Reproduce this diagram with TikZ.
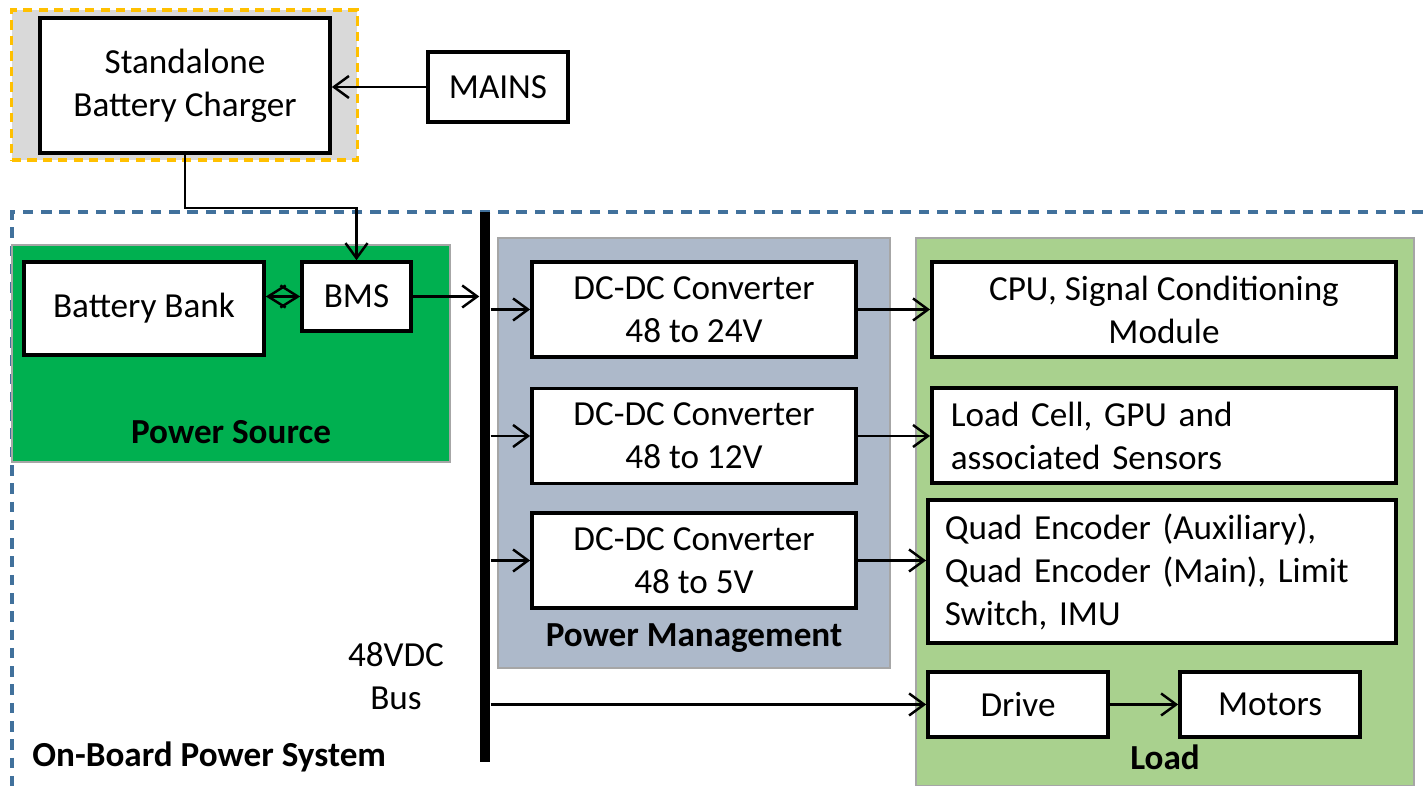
\documentclass[tikz,border=0pt]{standalone}
\usepackage{fontspec}
\setmainfont{Carlito}
\usepackage{tikz}
\usetikzlibrary{arrows.meta}
\definecolor{chargegray}{HTML}{D9D9D9}
\definecolor{chargeorange}{HTML}{FFC000}
\definecolor{srcgreen}{HTML}{00B050}
\definecolor{pmblue}{HTML}{ADB9CA}
\definecolor{loadgreen}{HTML}{A9D18E}
\definecolor{zonegray}{HTML}{A6A6A6}
\definecolor{boardblue}{HTML}{41719C}

\begin{document}
\begin{tikzpicture}[x=0.01cm,y=-0.01cm]

    \useasboundingbox (0,0) rectangle (1423,786);
    \tikzstyle{every node}=[font=\fontsize{10}{12.2}\selectfont]
    \tikzstyle{blk}=[draw,fill=white,line width=1pt,align=center,inner sep=0pt]
    \tikzstyle{zone}=[draw=zonegray,line width=0.6pt,inner sep=0pt]
    \tikzstyle{lbl}=[font=\fontsize{10}{12.2}\selectfont\bfseries]
    \tikzstyle{wire}=[line width=0.7pt,-{Straight Barb[length=1.5mm,width=2.2mm]}]

    % regions
    \node[zone,fill=chargegray,draw=chargeorange,line width=0.9pt,dash pattern=on 2.6pt off 1.8pt,minimum width=3.45cm,minimum height=1.5cm](chargezone) at (184.5,85){};
    \draw[boardblue,line width=0.9pt,dash pattern=on 3pt off 2.2pt] (1423,212) -| (12,786);
    \node[zone,fill=srcgreen,minimum width=4.38cm,minimum height=2.17cm](srczone) at (231,353.5){};
    \node[zone,fill=pmblue,minimum width=3.92cm,minimum height=4.3cm](pmzone) at (694,453){};
    \node[zone,fill=loadgreen,minimum width=4.98cm,minimum height=5.48cm](loadzone) at (1165,512){};

    % blocks
    \node[blk,minimum width=2.9cm,minimum height=1.35cm](charger) at (185,85.5){Standalone\\Battery Charger};
    \node[blk,minimum width=1.4cm,minimum height=0.7cm](mains) at (498,87){MAINS};
    \node[blk,minimum width=2.4cm,minimum height=0.93cm](battery) at (144,308.5){Battery Bank};
    \node[blk,minimum width=1.09cm,minimum height=0.69cm](bms) at (356.5,296.5){BMS};
    \node[blk,minimum width=3.24cm,minimum height=0.95cm](conv1) at (694,309.5){DC-DC Converter\\48 to 24V};
    \node[blk,minimum width=3.24cm,minimum height=0.95cm](conv2) at (694,436){DC-DC Converter\\48 to 12V};
    \node[blk,minimum width=3.24cm,minimum height=0.95cm](conv3) at (694,560.5){DC-DC Converter\\48 to 5V};
    \node[blk,minimum width=4.64cm,minimum height=0.95cm](cpu) at (1164,309.5){CPU, Signal Conditioning\\Module};
    \node[blk,align=left,inner xsep=0.19cm,text width=4.26cm,minimum height=0.95cm](cell) at (1164,435.5){Load Cell, GPU and\\associated Sensors};
    \node[blk,align=left,inner xsep=0.17cm,text width=4.34cm,minimum height=1.43cm](quad) at (1162,571.5){Quad Encoder (Auxiliary),\\Quad Encoder (Main), Limit\\Switch, IMU};
    \node[blk,minimum width=1.8cm,minimum height=0.65cm](drive) at (1018,704.5){Drive};
    \node[blk,minimum width=1.8cm,minimum height=0.65cm](motors) at (1270,704.5){Motors};

    % bus
    \node[fill=black,inner sep=0pt,minimum width=0.1cm,minimum height=5.5cm](bus) at (485,487){};
    \node[align=center](buslbl) at (396,676){48VDC\\Bus};

    % labels
    \node[lbl](srclbl) at (231,432){Power Source};
    \node[lbl](pmlbl) at (694,638){Power Management};
    \node[lbl](loadlbl) at (1165,757){Load};
    \node[lbl,anchor=west](boardlbl) at (20,757){On-Board Power System};

    % connections
    \draw[wire](mains.west)--(mains.west -| charger.east);
    \draw[wire](charger.south)--++(0,53)-|(bms.north);
    \draw[line width=0.7pt,{Straight Barb[length=1.75mm,width=2.2mm]}-{Straight Barb[length=1.75mm,width=2.2mm]}](bms.west -| battery.east)--(bms.west);
    \draw[wire](bms.east)--(bms.east -| bus.west);
    \foreach \c in {conv1,conv2,conv3}
      \draw[wire](bus.east |- \c.west)--(\c.west);
    \draw[wire](conv1.east)--(conv1.east -| cpu.west);
    \draw[wire](conv2.east)--(conv2.east -| cell.west);
    \draw[wire](conv3.east)--(conv3.east -| quad.west);
    \draw[wire](bus.east |- drive.west)--(drive.west);
    \draw[wire](drive)--(motors);

\end{tikzpicture}
\end{document}
